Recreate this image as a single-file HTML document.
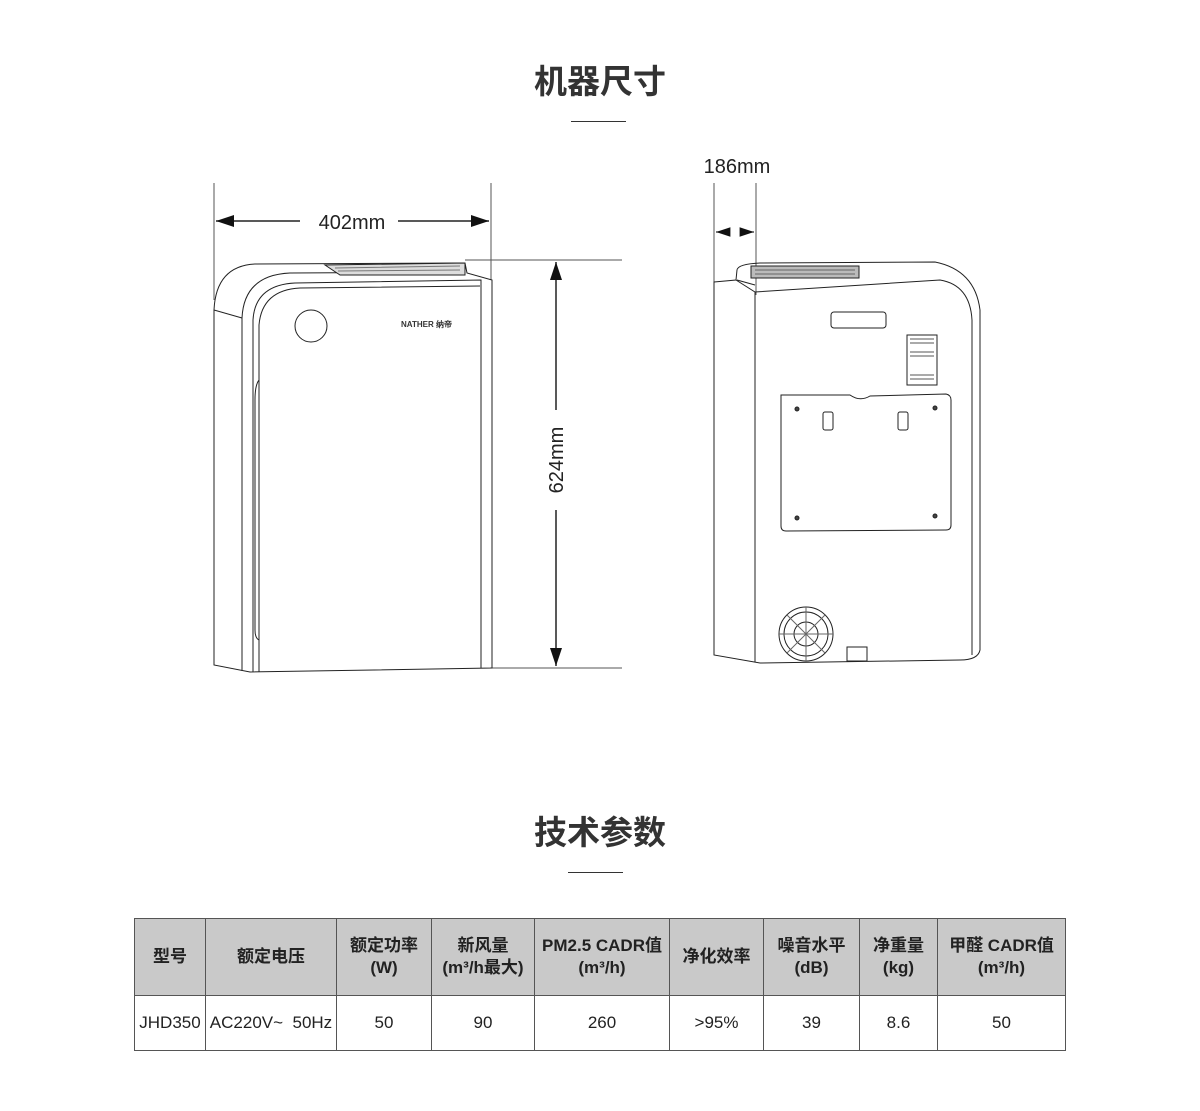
<!DOCTYPE html>
<html><head><meta charset="utf-8"><style>
body{margin:0;background:#fff;width:1200px;height:1111px;overflow:hidden;font-family:"Liberation Sans","Noto Sans CJK SC",sans-serif;position:relative}
.h{position:absolute;left:0;width:1200px;text-align:center;font-size:33px;font-weight:bold;color:#333}
.bar{position:absolute;height:1px;background:#333}
table{position:absolute;left:134px;top:918px;border-collapse:collapse;font-family:"Liberation Sans","Noto Sans CJK SC",sans-serif;color:#222}
td{border:1px solid #555;text-align:center;font-size:17px;padding:0;line-height:22px}
tr.hd td{background:#c9c9c9;height:76px;font-weight:bold}
tr.bd td{height:54px}
</style></head><body>
<div class="h" style="top:55px">机器尺寸</div>
<div class="bar" style="left:571px;top:121px;width:55px"></div>
<div class="h" style="top:806px">技术参数</div>
<div class="bar" style="left:568px;top:872px;width:55px"></div>
<svg width="1200" height="800" style="position:absolute;left:0;top:0" fill="none" stroke="#222" stroke-width="1">
<defs><marker id="a" markerWidth="12" markerHeight="8" refX="12" refY="4" orient="auto"><path d="M0,0 L12,4 L0,8z" fill="#111" stroke="none"/></marker></defs>
<!-- front dims -->
<line x1="214" y1="183" x2="214" y2="300" stroke="#555"/>
<line x1="491" y1="183" x2="491" y2="280" stroke="#555"/>
<line x1="300" y1="221" x2="216" y2="221" stroke-width="1.5" marker-end="url(#a)"/>
<line x1="398" y1="221" x2="489" y2="221" stroke-width="1.5" marker-end="url(#a)"/>
<text x="352" y="229" font-size="20" fill="#222" stroke="none" text-anchor="middle" font-family="Liberation Sans">402mm</text>
<line x1="465" y1="260" x2="622" y2="260" stroke="#555"/>
<line x1="490" y1="668" x2="622" y2="668" stroke="#555"/>
<line x1="556" y1="410" x2="556" y2="262" stroke-width="1.5" marker-end="url(#a)"/>
<line x1="556" y1="510" x2="556" y2="666" stroke-width="1.5" marker-end="url(#a)"/>
<text x="0" y="0" transform="translate(563,460) rotate(-90)" font-size="20" fill="#222" stroke="none" text-anchor="middle" font-family="Liberation Sans">624mm</text>
<!-- front unit -->
<path d="M214,310 Q216,266 255,264 L465,263 L467,273 L492,280 L492,668 L250,672 L214,665 Z"/>
<path d="M214,310 L242,318"/>
<path d="M242,318 Q244,275 290,273 L465,272"/>
<path d="M242,318 L242,671"/>
<path d="M253,672 L253,320 Q255,285 295,283 L481,280 L481,668"/>
<path d="M259,672 L259,325 Q262,290 300,288 L480,286"/>
<path d="M259,380 Q255,385 255,400 L255,630 Q255,638 259,640"/>
<circle cx="311" cy="326" r="16"/>
<path d="M325,265 L465,263 L465,275 L340,275 Z" fill="#ddd"/>
<path d="M335,268 L460,266 M338,271 L460,270" stroke="#777"/>
<text x="401" y="327" font-size="8" fill="#333" stroke="none" font-family="Liberation Sans" font-weight="bold">NATHER 纳帝</text>
<!-- side dims -->
<line x1="714" y1="183" x2="714" y2="285" stroke="#555"/>
<line x1="756" y1="183" x2="756" y2="295" stroke="#555"/>
<line x1="730" y1="232" x2="716" y2="232" stroke-width="1.2" marker-end="url(#a)"/>
<line x1="740" y1="232" x2="754" y2="232" stroke-width="1.2" marker-end="url(#a)"/>
<text x="737" y="173" font-size="20" fill="#222" stroke="none" text-anchor="middle" font-family="Liberation Sans">186mm</text>
<!-- side unit -->
<path d="M714,282 L736,280 L737,270 Q738,264 760,263 L935,262 Q975,270 980,310 L980,650 Q978,660 960,660 L760,663 L714,655 Z"/>
<path d="M736,280 L755,292 L940,280 Q970,285 972,320 L972,655"/>
<path d="M755,292 L755,662"/>
<path d="M737,280 L755,285"/>
<rect x="751" y="266" width="108" height="12" fill="#bbb"/>
<path d="M755,270 H855 M755,274 H855" stroke="#666"/>
<rect x="831" y="312" width="55" height="16" rx="3"/>
<rect x="907" y="335" width="30" height="50"/>
<path d="M910,339 H934 M910,343 H934 M910,352 H934 M910,356 H934 M910,375 H934 M910,379 H934" stroke="#555"/>
<path d="M781,395 L850,395 Q860,402 870,396 L946,394 Q951,395 951,400 L951,525 Q951,530 946,530 L786,531 Q781,531 781,526 Z"/>
<circle cx="797" cy="409" r="2" fill="#444"/><circle cx="935" cy="408" r="2" fill="#444"/>
<circle cx="797" cy="518" r="2" fill="#444"/><circle cx="935" cy="516" r="2" fill="#444"/>
<rect x="823" y="412" width="10" height="18" rx="2"/><rect x="898" y="412" width="10" height="18" rx="2"/>
<circle cx="806" cy="634" r="27"/><circle cx="806" cy="634" r="22"/><circle cx="806" cy="634" r="12"/>
<path d="M806,607 L806,661 M779,634 L833,634 M787,615 L825,653 M825,615 L787,653" stroke="#666"/>
<rect x="847" y="647" width="20" height="14"/>
</svg>
<table>
<tr class="hd"><td style="width:70px">型号</td><td style="width:130px">额定电压</td><td style="width:94px">额定功率<br>(W)</td><td style="width:102px">新风量<br>(m³/h最大)</td><td style="width:134px">PM2.5 CADR值<br>(m³/h)</td><td style="width:93px">净化效率</td><td style="width:95px">噪音水平<br>(dB)</td><td style="width:77px">净重量<br>(kg)</td><td style="width:127px">甲醛 CADR值<br>(m³/h)</td></tr>
<tr class="bd"><td>JHD350</td><td>AC220V~&nbsp; 50Hz</td><td>50</td><td>90</td><td>260</td><td>&gt;95%</td><td>39</td><td>8.6</td><td>50</td></tr>
</table>
</body></html>
